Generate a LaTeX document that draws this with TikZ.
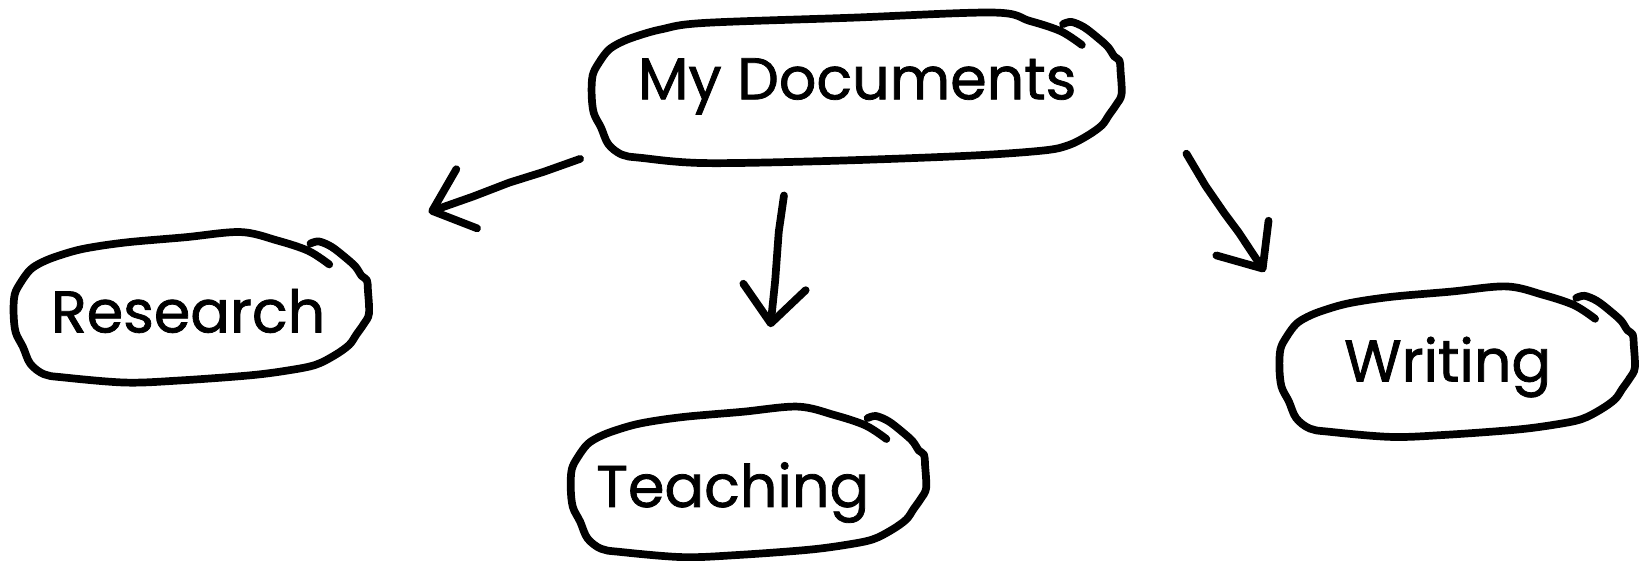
\documentclass[tikz,border=0pt]{standalone}
\usepackage{fontspec}
\setmainfont{Poppins}[BoldFont=Poppins, BoldFeatures={FakeBold=1.3}]
\usetikzlibrary{arrows.meta,calc,decorations.pathmorphing}

\tikzset{
  doclabel/.style={font=\fontsize{32}{38}\selectfont\bfseries, anchor=base, inner sep=0pt},
  sketchline/.style={line width=4.2pt, line cap=round, line join=round},
  sketcharrow/.style={sketchline, -{Straight Barb[length=7mm,width=12mm,round]},
    decorate, decoration={random steps, segment length=7mm, amplitude=2pt, post length=9mm}},
}

% hand drawn frame: node, shift x, shift y, extra width
\newcommand{\sketchbox}[4]{%
  \begin{scope}[shift={(#1.base)}, shift={(#2,#3)}]
    \draw[sketchline] plot[smooth, tension=0.55] coordinates {
      ({285+#4},15) ({293+#4},13) ({305+#4},18) ({318+#4},28) ({328+#4},37)
      ({334+#4},46) ({339+#4},50) ({340+#4},60) ({341+#4},82) ({336+#4},92)
      ({329+#4},102) ({322+#4},112) ({308+#4},122) ({290+#4},131) ({266+#4},136)
      ({228+0.8*#4},141) ({160+0.4*#4},146) (108,148) (48,143) (30,140)
      (17,130) (10,114) (3,100) (1,82) (2,64)
      (8,52) (17,40) (28,33) (43,27) (68,20) (108,14) ({165+0.5*#4},9)
      ({218+#4},4) ({253+#4},12) ({283+#4},22) ({303+#4},35)};
  \end{scope}}

\begin{document}
\begin{tikzpicture}[x=0.02cm, y=-0.02cm]
  \pgfmathsetseed{11}
  \useasboundingbox (0,0) rectangle (1568,536);
  % Folders
  \node[doclabel] (mydocs) at (820,95) {My Documents};
  \node[doclabel] (research) at (180,318) {Research};
  \node[doclabel] (teaching) at (701,485) {Teaching};
  \node[doclabel] (writing) at (1385,365) {Writing};
  % Frames
  \sketchbox{mydocs}{-255}{-87}{167}
  \sketchbox{research}{-168}{-100}{0}
  \sketchbox{teaching}{-156}{-100}{0}
  \sketchbox{writing}{-162}{-95}{0}
  % Arrows
  \draw[sketcharrow] ($(mydocs.base)+(-265,57)$) -- ($(research.base)+(230,-115)$);
  \draw[sketcharrow] ($(mydocs.base)+(-70,92)$) -- ($(teaching.base)+(36,-172)$);
  \draw[sketcharrow] ($(mydocs.base)+(315,52)$) -- ($(writing.base)+(-175,-105)$);
\end{tikzpicture}
\end{document}
